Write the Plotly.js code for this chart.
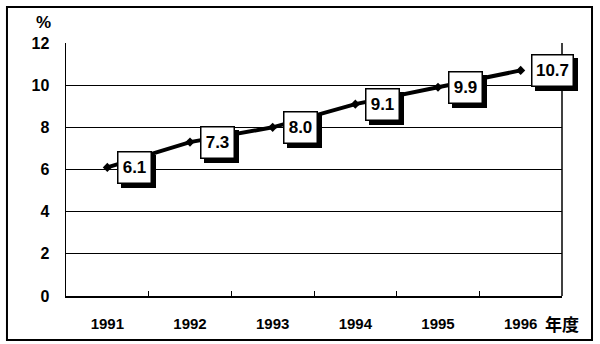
<!DOCTYPE html>
<html><head><meta charset="utf-8">
<script src="https://cdn.plot.ly/plotly-3.0.1.min.js"></script>
<style>html,body{margin:0;padding:0;background:#fff;}#chart{width:600px;height:344px;}</style>
</head><body><div id="chart"></div>
<script>
const years = ['1991','1992','1993','1994','1995','1996'];
const values = [6.1, 7.3, 8.0, 9.1, 9.9, 10.7];
const yTicks = [0, 2, 4, 6, 8, 10, 12];

const FONT = 'Liberation Sans, Arial, sans-serif';
const annotations = [];
values.forEach((v, i) => {
  const label = v.toFixed(1);
  const w = label.length > 3 ? 34 : 26;
  const h = 24;
  // shadow (blank box)
  annotations.push({x: i, y: v, xref: 'x', yref: 'y', text: ' ', showarrow: false,
    xanchor: 'left', yanchor: 'middle', xshift: 14, yshift: -4, width: w, height: h,
    font: {family: FONT, size: 17, color: '#000'}, bgcolor: '#000', bordercolor: '#000',
    borderwidth: 1.5, borderpad: 3});
  annotations.push({x: i, y: v, xref: 'x', yref: 'y', text: '<b>' + label + '</b>', showarrow: false,
    xanchor: 'left', yanchor: 'middle', xshift: 10, yshift: 0, width: w, height: h,
    font: {family: FONT, size: 17, color: '#000'}, bgcolor: '#fff', bordercolor: '#000',
    borderwidth: 1.5, borderpad: 3});
});
annotations.push({x: 0.962, y: -0.107, xref: 'paper', yref: 'paper', text: '<b>年度</b>', showarrow: false,
  xanchor: 'left', yanchor: 'middle', font: {family: 'Noto Sans CJK JP, sans-serif', size: 17, color: '#000'}});
annotations.push({x: -0.046, y: 1.083, xref: 'paper', yref: 'paper', text: '<b>%</b>', showarrow: false,
  xanchor: 'center', yanchor: 'middle', font: {family: FONT, size: 17, color: '#000'}});

const trace = {
  x: years, y: values, type: 'scatter', mode: 'lines+markers',
  line: {color: '#000', width: 4},
  marker: {symbol: 'diamond', size: 7, color: '#000'},
  hoverinfo: 'skip', cliponaxis: false
};

const layout = {
  width: 600, height: 344,
  margin: {l: 66, r: 38, t: 43, b: 48},
  paper_bgcolor: '#fff', plot_bgcolor: '#fff',
  showlegend: false,
  xaxis: {
    type: 'category', range: [-0.5, 5.5], autorange: false, showgrid: false, zeroline: false,
    showline: true, linecolor: '#000', linewidth: 1.5, mirror: false,
    ticks: 'inside', tickson: 'boundaries', ticklen: 5, tickcolor: '#000', tickwidth: 1,
    ticklabelstandoff: 13, tickangle: 0,
    tickfont: {family: FONT, size: 15, color: '#000', weight: 'bold'}
  },
  yaxis: {
    range: [0, 12], autorange: false, tickvals: yTicks, ticktext: yTicks.map(String),
    showgrid: true, gridcolor: '#000', gridwidth: 1, zeroline: false,
    showline: true, linecolor: '#000', linewidth: 1.5,
    ticks: '', ticklabelstandoff: 12,
    tickfont: {family: FONT, size: 16, color: '#000', weight: 'bold'}
  },
  shapes: [
    {type: 'line', xref: 'paper', yref: 'paper', x0: 1, x1: 1, y0: 0, y1: 1, line: {color: '#000', width: 1.5}},
    {type: 'rect', xref: 'paper', yref: 'paper', x0: -0.119, x1: 1.0605, y0: -0.174, y1: 1.142,
      line: {color: '#000', width: 2}, layer: 'below'}
  ],
  annotations: annotations
};

Plotly.newPlot('chart', [trace], layout, {staticPlot: true});
</script></body></html>
